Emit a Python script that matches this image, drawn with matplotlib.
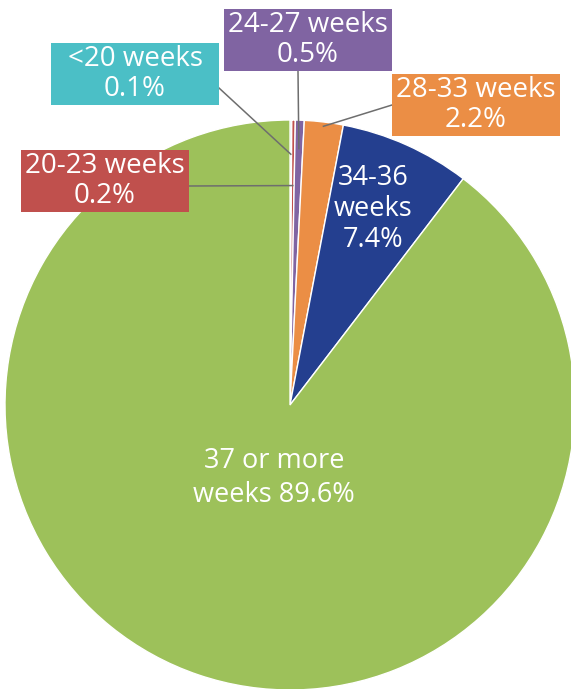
import numpy as np
import matplotlib.pyplot as plt
from matplotlib.patches import Rectangle

plt.rcParams['font.family'] = ['Open Sans', 'DejaVu Sans']

# data
categories = ['<20 weeks', '20-23 weeks', '24-27 weeks', '28-33 weeks', '34-36 weeks', '37 or more weeks']
values = [0.1, 0.2, 0.5, 2.2, 7.4, 89.6]
colors = ['#4BBFC6', '#C0504D', '#8064A2', '#EB8E45', '#243F8F', '#9DC15A']

W, H = 571, 689
cx, cy, R = 290, 405, 285   # pie centre / radius in pixel coords (y down)


def Y(y):
    return H - y


fig = plt.figure(figsize=(W / 100, H / 100), dpi=100)
ax = fig.add_axes([0, 0, 1, 1])

wedges, _ = ax.pie(values, colors=colors, startangle=90, counterclock=False,
                   center=(cx, Y(cy)), radius=R, frame=False,
                   wedgeprops=dict(edgecolor='white', linewidth=1.0))

# pie() resets the limits, so set them afterwards
ax.set_xlim(0, W)
ax.set_ylim(0, H)
ax.set_aspect('equal')
ax.axis('off')

# mid angle of each wedge, measured clockwise from 12 o'clock
cum = np.cumsum(values) - np.array(values) / 2
mid = np.radians(cum / 100 * 360)

# boxed labels for the small slices: (index, box x0, y0, x1, y1, line start, radial fraction)
boxes = [
    (0, 51, 43, 219, 105, (219, 88), 0.88),
    (1, 21, 150, 189, 212, (189, 186), 0.77),
    (2, 224, 9, 392, 71, (298, 71), 0.90),
    (3, 392, 74, 560, 136, (392, 105), 0.985),
]
for i, x0, y0, x1, y1, start, frac in boxes:
    ex = cx + R * frac * np.sin(mid[i])
    ey = cy - R * frac * np.cos(mid[i])
    ax.plot([start[0], ex], [Y(start[1]), Y(ey)], color='#6E6E6E', lw=1.1, zorder=3)
    ax.add_patch(Rectangle((x0, Y(y1)), x1 - x0, y1 - y0, facecolor=colors[i],
                           edgecolor='none', zorder=4))
    name = categories[i]
    ax.text((x0 + x1) / 2, Y((y0 + y1) / 2), f'{name}\n{values[i]}%', color='white',
            fontsize=20, ha='center', va='center', linespacing=1.12, zorder=5)

# labels inside the large slices
ax.text(373, Y(209), f'34-36\nweeks\n{values[4]}%', color='white', fontsize=19.5,
        ha='center', va='center', linespacing=1.15)
ax.text(274, Y(478), f'37 or more\nweeks {values[5]}%', color='white', fontsize=19.5,
        ha='center', va='center', linespacing=1.25)

fig.savefig('out.png', dpi=100, facecolor='white')
